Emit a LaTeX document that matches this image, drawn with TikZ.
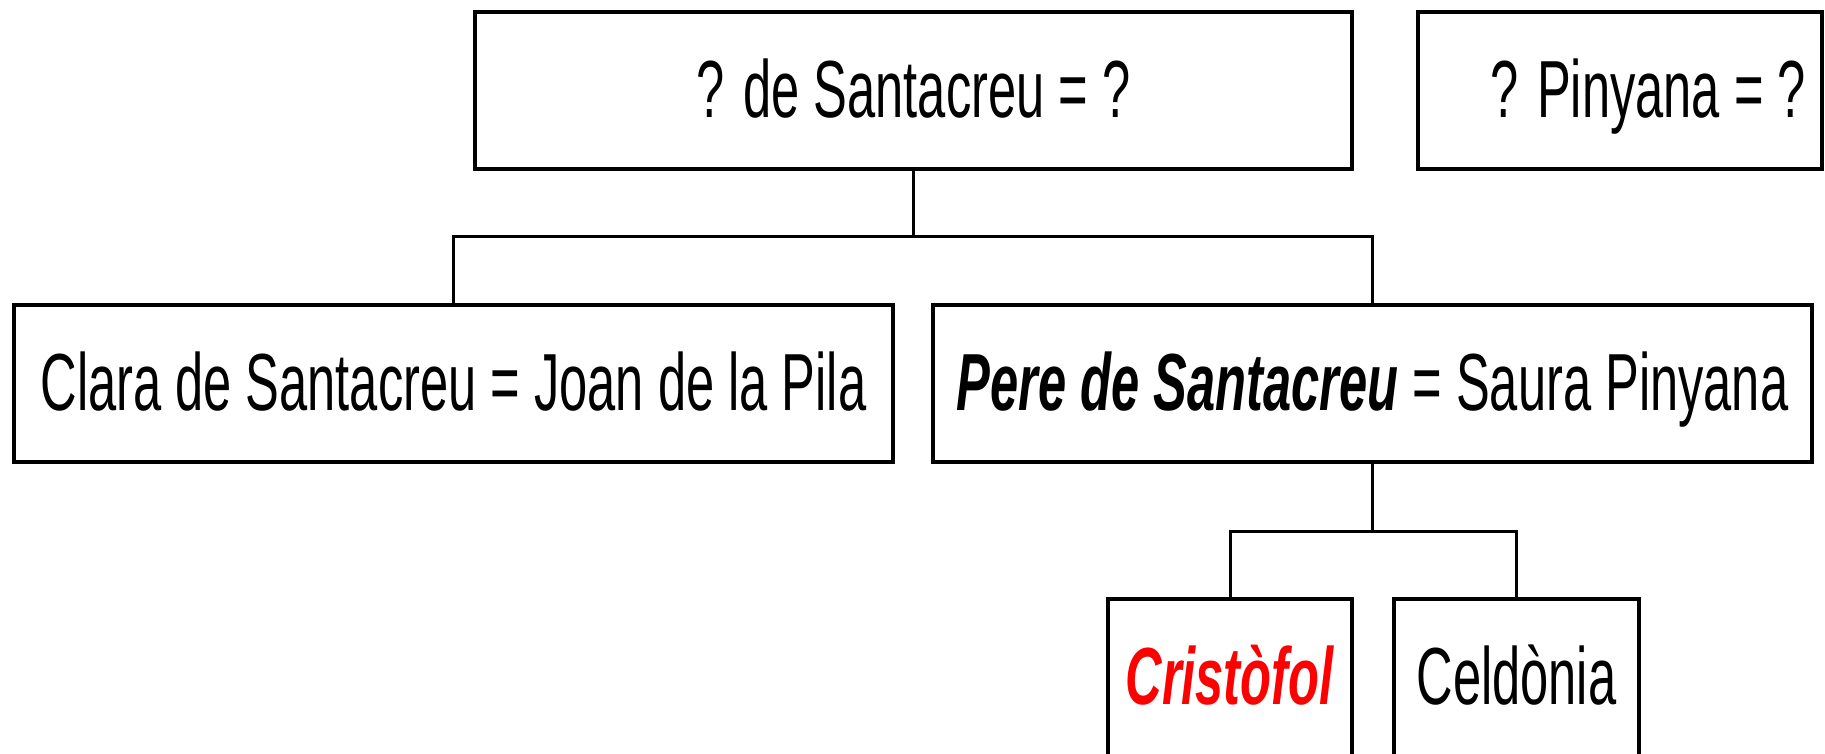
\documentclass[tikz,border=0pt]{standalone}
\usepackage{fontspec}
\setmainfont{Liberation Sans}[FakeStretch=0.625]
\begin{document}
\begin{tikzpicture}[x=1pt,y=-1pt,
  box/.style={draw, line width=4pt, minimum height=157pt, inner sep=0pt,
    text height=105pt, text depth=52pt, font=\fontsize{81pt}{90pt}\selectfont},
  lbl/.style={inner sep=0pt, anchor=base, font=\fontsize{81pt}{90pt}\selectfont},
  conn/.style={line width=3pt}]
\useasboundingbox (0,0) rectangle (1825,753);
\fill[white] (0,0) rectangle (1825,753);
\node[box, minimum width=877pt] (top) at (913.5,90.5) {? de Santacreu = ?};
\node[box, minimum width=404pt] (pin) at (1620,90.5) {};
\node[lbl] (pintext) at (1648,117) {? Pinyana = ?};
\node[box, minimum width=879pt] (clara) at (453.5,383.5) {Clara de Santacreu = Joan de la Pila};
\node[box, minimum width=879pt] (pere) at (1372.5,383.5) {\textbf{\textit{Pere de Santacreu}} = Saura Pinyana};
\node[box, minimum width=244pt] (crist) at (1230,677.5) {\textcolor{red}{\textbf{\textit{Cristòfol}}}};
\node[box, minimum width=245pt] (celd) at (1516.5,677.5) {Celdònia};
\coordinate (j1) at (913.5,236);
\coordinate (j2) at (1372.5,531);
\draw[conn] (top.south) -- (j1);
\draw[conn] (clara.north) |- (j1) -| (pere.north);
\draw[conn] (pere.south) -- (j2);
\draw[conn] (crist.north) |- (j2) -| (celd.north);
\end{tikzpicture}
\end{document}
